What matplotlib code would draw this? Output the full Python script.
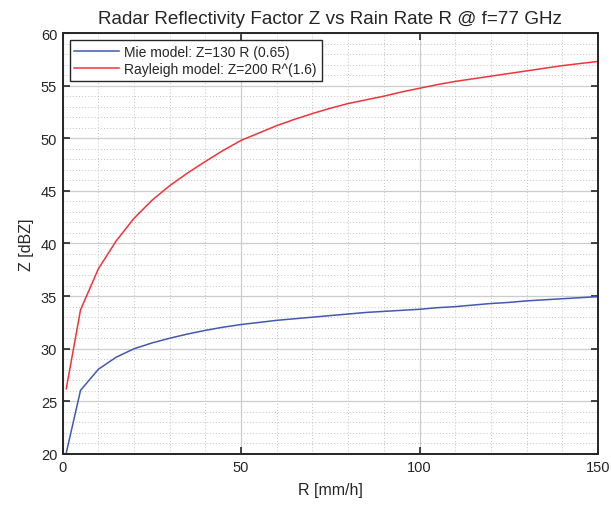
import numpy as np
import matplotlib
matplotlib.use('Agg')
import matplotlib.pyplot as plt
from matplotlib.ticker import MultipleLocator

plt.rcParams['font.family'] = ['Liberation Sans', 'DejaVu Sans']

# rain rate samples [mm/h]
rain_rate = [1, 5, 10, 15, 20, 25, 30, 35, 40, 45, 50, 55, 60, 65, 70, 75,
             80, 85, 90, 95, 100, 105, 110, 115, 120, 125, 130, 135, 140, 145, 150]

# Z [dBZ]
z_mie = [20.1, 26.05, 28.05, 29.2, 30.0, 30.55, 31.0, 31.4, 31.75, 32.05, 32.3,
         32.5, 32.7, 32.85, 33.0, 33.15, 33.3, 33.45, 33.55, 33.65, 33.75, 33.9,
         34.0, 34.15, 34.3, 34.4, 34.55, 34.65, 34.75, 34.85, 34.95]
z_rayleigh = [26.2, 33.7, 37.6, 40.25, 42.4, 44.1, 45.5, 46.7, 47.8, 48.85, 49.8,
              50.5, 51.2, 51.8, 52.35, 52.85, 53.3, 53.65, 54.0, 54.4, 54.75, 55.1,
              55.4, 55.65, 55.9, 56.15, 56.4, 56.65, 56.9, 57.1, 57.3]

txt = '#262626'

fig = plt.figure(figsize=(6.11, 5.06), dpi=100)
ax = fig.add_axes([0.1026, 0.1008, 0.8761, 0.832])

ax.plot(rain_rate, z_mie, color='#4358b0', lw=1.1, label='Mie model: Z=130 R (0.65)')
ax.plot(rain_rate, z_rayleigh, color='#f2333b', lw=1.1, label='Rayleigh model: Z=200 R^(1.6)')

ax.set_xlim(0, 150)
ax.set_ylim(20, 60)
ax.xaxis.set_major_locator(MultipleLocator(50))
ax.xaxis.set_minor_locator(MultipleLocator(10))
ax.yaxis.set_major_locator(MultipleLocator(5))
ax.yaxis.set_minor_locator(MultipleLocator(1))

ax.grid(which='major', color='#cdcdcd', lw=0.9, ls='-')
ax.grid(which='minor', color='#c2c2c2', lw=0.7, ls=(0, (1, 2.2)))
ax.set_axisbelow(True)

ax.tick_params(which='major', direction='in', length=5, width=1.2,
               top=True, right=True, labelsize=10.5, colors=txt, pad=4)
ax.tick_params(which='minor', length=0)
for s in ax.spines.values():
    s.set_color(txt)
    s.set_linewidth(1.4)

ax.set_title('Radar Reflectivity Factor Z vs Rain Rate R @ f=77 GHz',
             fontsize=13.6, color=txt, pad=7)
ax.set_xlabel('R [mm/h]', fontsize=11.5, color=txt, labelpad=6)
ax.set_ylabel('Z [dBZ]', fontsize=11.5, color=txt, labelpad=5)

leg = ax.legend(loc='upper left', fontsize=10, frameon=True, fancybox=False,
                handlelength=3.2, handletextpad=0.4, borderpad=0.35,
                labelspacing=0.25, borderaxespad=0.5)
leg.get_frame().set_edgecolor(txt)
leg.get_frame().set_linewidth(1.0)
leg.get_frame().set_alpha(1)
for t in leg.get_texts():
    t.set_color(txt)

fig.savefig('out.png', dpi=100)
